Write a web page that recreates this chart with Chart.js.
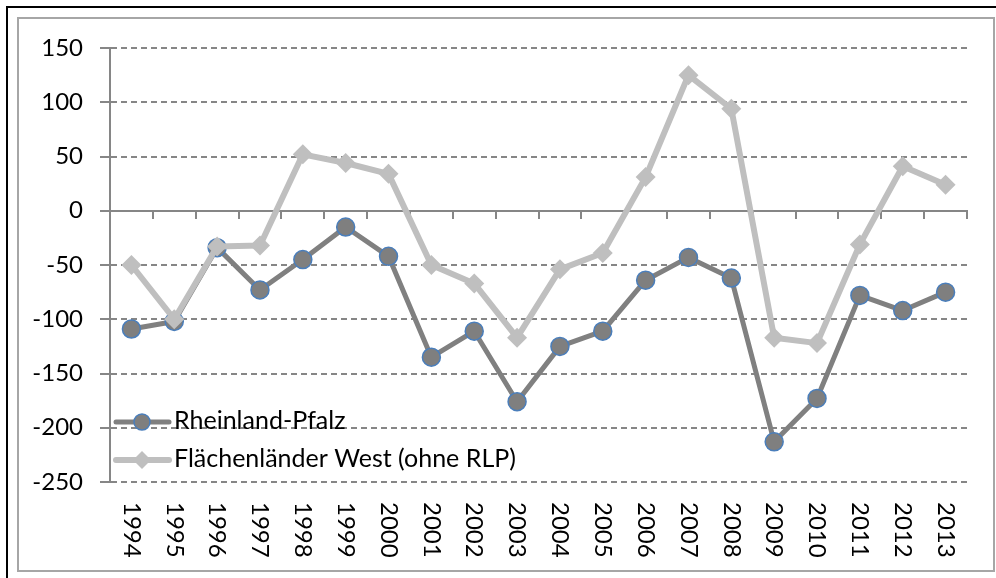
<!DOCTYPE html>
<html>
<head>
<meta charset="utf-8">
<script src="https://cdn.jsdelivr.net/npm/chart.js@4.4.1/dist/chart.umd.min.js"></script>
<style>
  html, body { margin: 0; padding: 0; background: #fff; }
  #wrap { width: 996px; height: 578px; position: relative; }
</style>
</head>
<body>
<div id="wrap"><canvas id="chart" width="996" height="578"></canvas></div>
<script>
// Jahre (Kategorien)
const years = ['1994', '1995', '1996', '1997', '1998', '1999', '2000', '2001', '2002', '2003',
               '2004', '2005', '2006', '2007', '2008', '2009', '2010', '2011', '2012', '2013'];

// Werte je Reihe
const rheinlandPfalz = [-109, -102, -34, -73, -45, -15, -42, -135, -111, -176,
                        -125, -111, -64, -43, -62, -213, -173, -78, -92, -75];
const westOhneRlp = [-50, -100, -33, -32, 52, 44, 34, -50, -67, -117,
                     -54, -39, 31, 125, 94, -117, -122, -31, 41, 24];

const seriesLabels = ['Rheinland-Pfalz', 'Flächenländer West (ohne RLP)'];

const yMin = -250;
const yMax = 150;
const yStep = 50;

const FAMILY = 'Lato, "Noto Sans", sans-serif';
const GRID = '#868686';

// Rahmen um die Grafik
const frame = {
    id: 'frame',
    beforeDraw(chart) {
        const ctx = chart.ctx;
        ctx.save();
        ctx.fillStyle = '#fff';
        ctx.fillRect(0, 0, chart.width, chart.height);
        ctx.fillStyle = '#000';
        ctx.fillRect(6, 6, 2, chart.height - 6);
        ctx.fillRect(6, 6, chart.width - 6, 2);
        ctx.strokeStyle = '#a6a6a6';
        ctx.lineWidth = 2;
        ctx.strokeRect(18, 18, 976, 553);
        ctx.restore();
    }
};

// senkrechte Jahreszahlen + Legende im Diagramm
const extras = {
    id: 'extras',
    afterDraw(chart) {
        const ctx = chart.ctx;
        const xs = chart.scales.x;
        ctx.save();
        ctx.fillStyle = '#000';
        ctx.font = '24px ' + FAMILY;
        ctx.textAlign = 'left';
        ctx.textBaseline = 'middle';
        years.forEach((y, i) => {
            const px = xs.getPixelForValue(i);
            ctx.save();
            ctx.translate(px, 502);
            ctx.rotate(Math.PI / 2);
            ctx.fillText(y, 0, 0);
            ctx.restore();
        });

        const rows = [
            { y: 422, ds: chart.data.datasets[0], r: 8 },
            { y: 460, ds: chart.data.datasets[1], r: 9 }
        ];
        rows.forEach(row => {
            const ds = row.ds;
            ctx.strokeStyle = ds.borderColor;
            ctx.lineWidth = ds.borderWidth;
            ctx.lineCap = 'round';
            ctx.beginPath();
            ctx.moveTo(116, row.y);
            ctx.lineTo(169, row.y);
            ctx.stroke();
            ctx.fillStyle = ds.pointBackgroundColor;
            ctx.strokeStyle = ds.pointBorderColor;
            ctx.lineWidth = ds.pointBorderWidth;
            Chart.helpers.drawPoint(ctx, {
                pointStyle: ds.pointStyle, radius: row.r, rotation: 0, borderWidth: ds.pointBorderWidth
            }, 142, row.y);
            ctx.fillStyle = '#000';
            ctx.font = '25px ' + FAMILY;
            ctx.fillText(ds.label, 174, row.y - 1);
        });
        ctx.restore();
    }
};

new Chart(document.getElementById('chart'), {
    type: 'line',
    data: {
        labels: years,
        datasets: [
            {
                label: seriesLabels[0],
                data: rheinlandPfalz,
                order: 2,
                borderColor: '#808080',
                borderWidth: 5,
                borderJoinStyle: 'round',
                tension: 0,
                pointStyle: 'circle',
                pointRadius: 9,
                pointHoverRadius: 9,
                pointBackgroundColor: '#7f7f7f',
                pointBorderColor: '#4a7ebb',
                pointBorderWidth: 1.5
            },
            {
                label: seriesLabels[1],
                data: westOhneRlp,
                order: 1,
                borderColor: '#bfbfbf',
                borderWidth: 6,
                borderJoinStyle: 'round',
                tension: 0,
                pointStyle: 'rectRot',
                pointRadius: 10,
                pointHoverRadius: 10,
                pointBackgroundColor: '#bfbfbf',
                pointBorderColor: '#bfbfbf',
                pointBorderWidth: 0
            }
        ]
    },
    options: {
        responsive: false,
        animation: false,
        devicePixelRatio: 1,
        layout: { padding: { left: 0, right: 29, top: 48, bottom: 96 } },
        plugins: {
            legend: { display: false },
            tooltip: { enabled: false }
        },
        scales: {
            x: {
                type: 'category',
                position: { y: 0 },
                offset: true,
                afterFit(scale) { scale.height = 0; },
                ticks: { display: false },
                grid: {
                    offset: true,
                    drawOnChartArea: false,
                    drawTicks: true,
                    tickLength: 7,
                    color: GRID,
                    lineWidth: 2
                },
                border: { display: true, color: GRID, width: 2 }
            },
            y: {
                min: yMin,
                max: yMax,
                afterFit(scale) { scale.width = 110; },
                ticks: {
                    stepSize: yStep,
                    color: '#000',
                    font: { family: FAMILY, size: 24 },
                    padding: 17,
                    callback: v => String(v)
                },
                grid: {
                    color: GRID,
                    lineWidth: 2,
                    tickLength: 10
                },
                border: { display: true, color: GRID, width: 2, dash: [6, 4] }
            }
        }
    },
    plugins: [frame, extras]
});
</script>
</body>
</html>
